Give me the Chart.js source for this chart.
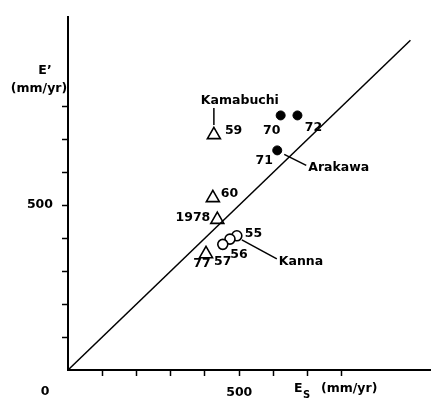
<!DOCTYPE html>
<html>
<head>
<meta charset="utf-8">
<script src="https://cdn.jsdelivr.net/npm/chart.js@4"></script>
<style>
  html, body { margin: 0; padding: 0; background: #fff; }
</style>
</head>
<body>
<canvas id="chart" width="431" height="400"></canvas>
<script>
// data (mm/yr)
const kamabuchiEs = [426, 423, 436, 403];
const kamabuchiE = [713, 522, 456, 352];
const kamabuchiYears = ["59", "60", "1978", "77"];

const kannaEs = [493, 473, 452];
const kannaE = [407, 397, 381];
const kannaYears = ["55", "56", "57"];

const arakawaEs = [621, 670, 611];
const arakawaE = [772, 772, 666];
const arakawaYears = ["70", "72", "71"];

const lineEs = [0, 1000];
const lineE = [0, 1000];

const xTicks = [100, 200, 300, 400, 500, 600, 700, 800];
const yTicks = [100, 200, 300, 400, 500, 600, 700, 800];
const xTickLabels = ["", "", "", "", "500", "", "", ""];
const yTickLabels = ["", "", "", "", "500", "", "", ""];

const fontFamily = "DejaVu Sans";
const fontSize = 12.5;
const font = "bold " + fontSize + 'px "' + fontFamily + '"';

function points(xs, ys) {
  return xs.map((x, i) => ({ x: x, y: ys[i] }));
}

// label placement: [dx, dy, align] from each point, in pixels
const kamabuchiYearPos = [[11, -4, "left"], [8, -4, "left"], [-7, -2, "right"], [-4, 10, "center"]];
const kannaYearPos = [[8, -2, "left"], [9, 16, "center"], [0, 17, "center"]];
const arakawaYearPos = [[-9, 15, "center"], [16, 12, "center"], [-13, 10, "center"]];

const labelPlugin = {
  id: "labels",
  afterDatasetsDraw(chart) {
    const ctx = chart.ctx;
    ctx.save();
    ctx.fillStyle = "#000";
    ctx.strokeStyle = "#000";
    ctx.lineWidth = 1.5;
    ctx.font = font;
    ctx.textBaseline = "middle";

    chart.data.datasets.forEach((ds, di) => {
      if (!ds.years) return;
      const meta = chart.getDatasetMeta(di);
      ds.years.forEach((t, i) => {
        const p = meta.data[i];
        const o = ds.yearPos[i];
        ctx.textAlign = o[2];
        ctx.fillText(t, p.x + o[0], p.y + o[1]);
      });
      // site name with leader line
      const g = ds.tag;
      const a = meta.data[g.anchor];
      ctx.beginPath();
      ctx.moveTo(a.x + g.line[0], a.y + g.line[1]);
      ctx.lineTo(a.x + g.line[2], a.y + g.line[3]);
      ctx.stroke();
      ctx.textAlign = g.align;
      ctx.fillText(ds.label, a.x + g.text[0], a.y + g.text[1]);
    });

    // axis titles and origin label
    ctx.textAlign = "center";
    ctx.fillText("0", 45, 392);
    ctx.fillText("E\u2019", 45, 71);
    ctx.fillText("(mm/yr)", 39, 89);
    ctx.textAlign = "left";
    ctx.fillText("E", 294, 389);
    ctx.fillText("(mm/yr)", 321, 389);
    ctx.font = 'bold 10px "' + fontFamily + '"';
    ctx.fillText("S", 303, 395);
    ctx.restore();
  },
};

const scaleBase = (ticks, labels) => ({
  type: "linear",
  min: 0,
  afterBuildTicks: (s) => {
    s.ticks = ticks.map((v) => ({ value: v }));
  },
  ticks: {
    color: "#000",
    font: { family: fontFamily, size: fontSize, weight: "bold" },
    padding: 9,
    maxRotation: 0,
    autoSkip: false,
    callback: (v) => labels[ticks.indexOf(v)] || "",
  },
  grid: {
    drawOnChartArea: false,
    drawTicks: true,
    tickLength: 6,
    tickWidth: 1.5,
    tickColor: "#000",
  },
  border: { display: true, color: "#000", width: 2 },
});

const xScale = scaleBase(xTicks, xTickLabels);
xScale.max = 1060;
xScale.afterFit = (s) => { s.height = 30; };
const yScale = scaleBase(yTicks, yTickLabels);
yScale.max = 1072;
yScale.afterFit = (s) => { s.width = 68; };

new Chart(document.getElementById("chart"), {
  type: "scatter",
  data: {
    datasets: [
      {
        type: "line",
        label: "1:1",
        data: points(lineEs, lineE),
        borderColor: "#000",
        borderWidth: 1.5,
        pointRadius: 0,
        fill: false,
      },
      {
        label: "Kamabuchi",
        data: points(kamabuchiEs, kamabuchiE),
        pointStyle: "triangle",
        pointRadius: 7.5,
        borderColor: "#000",
        backgroundColor: "#fff",
        borderWidth: 1.6,
        years: kamabuchiYears,
        yearPos: kamabuchiYearPos,
        tag: { anchor: 0, line: [0, -27, 0, -10], text: [26, -34], align: "center" },
      },
      {
        label: "Kanna",
        data: points(kannaEs, kannaE),
        pointStyle: "circle",
        pointRadius: 5,
        borderColor: "#000",
        backgroundColor: "#fff",
        borderWidth: 1.6,
        years: kannaYears,
        yearPos: kannaYearPos,
        tag: { anchor: 0, line: [5, 4, 40, 23], text: [42, 26], align: "left" },
      },
      {
        label: "Arakawa",
        data: points(arakawaEs, arakawaE),
        pointStyle: "circle",
        pointRadius: 4.5,
        borderColor: "#000",
        backgroundColor: "#000",
        borderWidth: 1,
        years: arakawaYears,
        yearPos: arakawaYearPos,
        tag: { anchor: 2, line: [7, 4, 29, 15], text: [31, 17], align: "left" },
      },
    ],
  },
  options: {
    responsive: false,
    animation: false,
    layout: { autoPadding: false, padding: { top: 12, right: 0, left: 0, bottom: 0 } },
    plugins: {
      legend: { display: false },
      tooltip: { enabled: false },
    },
    scales: { x: xScale, y: yScale },
  },
  plugins: [labelPlugin],
});
</script>
</body>
</html>
